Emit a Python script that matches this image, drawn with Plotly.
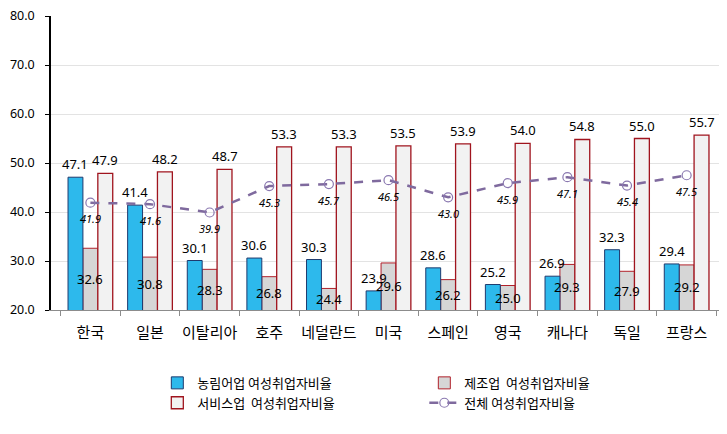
import plotly.graph_objects as go

categories = ["한국", "일본", "이탈리아", "호주", "네덜란드", "미국", "스페인", "영국", "캐나다", "독일", "프랑스"]
agri = [47.1, 41.4, 30.1, 30.6, 30.3, 23.9, 28.6, 25.2, 26.9, 32.3, 29.4]
manuf = [32.6, 30.8, 28.3, 26.8, 24.4, 29.6, 26.2, 25.0, 29.3, 27.9, 29.2]
service = [47.9, 48.2, 48.7, 53.3, 53.3, 53.5, 53.9, 54.0, 54.8, 55.0, 55.7]
total = [41.9, 41.6, 39.9, 45.3, 45.7, 46.5, 43.0, 45.9, 47.1, 45.4, 47.5]

names = ["농림어업 여성취업자비율", "제조업  여성취업자비율", "서비스업  여성취업자비율", "전체 여성취업자비율"]

NUM_FONT = "Noto Sans"
KR_FONT = "Noto Sans CJK KR"
Y_MIN, Y_MAX = 20, 80
BAR_W = 0.25  # width of each bar in category units

fig = go.Figure()
fig.add_trace(go.Bar(
    x=categories, y=manuf, name=names[1], legendrank=2,
    width=BAR_W, offset=-BAR_W / 2,
    marker=dict(color="#D6D6D6", line=dict(color="#B0202A", width=1)),
))
fig.add_trace(go.Bar(
    x=categories, y=service, name=names[2], legendrank=3,
    width=BAR_W, offset=BAR_W / 2,
    marker=dict(color="#F2F2F2", line=dict(color="#A0141E", width=1.3)),
))
fig.add_trace(go.Bar(
    x=categories, y=agri, name=names[0], legendrank=1,
    width=BAR_W, offset=-1.5 * BAR_W,
    marker=dict(color="#2DB9EC", line=dict(color="#1F3A6E", width=1)),
))
fig.add_trace(go.Scatter(
    x=categories, y=total, name=names[3], legendrank=4, mode="lines+markers",
    line=dict(color="#7F6A9E", width=2.5, dash="dash"),
    marker=dict(symbol="circle-open", size=9, color="#8A78B0", line=dict(width=1.2)),
    cliponaxis=False,
))

lab_font = dict(family=NUM_FONT, size=13, color="black")
for i, c in enumerate(categories):
    fig.add_annotation(x=i - BAR_W, y=agri[i], yshift=13, text=f"{agri[i]:.1f}",
                       showarrow=False, font=lab_font)
    fig.add_annotation(x=i, y=(Y_MIN + manuf[i]) / 2, text=f"{manuf[i]:.1f}",
                       showarrow=False, font=lab_font)
    fig.add_annotation(x=i + BAR_W, y=service[i], yshift=13, text=f"{service[i]:.1f}",
                       showarrow=False, font=lab_font)
    fig.add_annotation(x=i, y=total[i], yshift=-16, text=f"{total[i]:.1f}",
                       showarrow=False,
                       font=dict(family=NUM_FONT, size=11, color="black", style="italic"))

fig.update_layout(
    width=719, height=418,
    margin=dict(l=43, r=1, t=8, b=116),
    paper_bgcolor="white", plot_bgcolor="white",
    barmode="overlay",
    showlegend=True,
    legend=dict(orientation="h", x=0.1575, xanchor="left", y=-0.197, yanchor="top",
                entrywidth=222, entrywidthmode="pixels",
                font=dict(family=KR_FONT, size=13, color="black"),
                tracegroupgap=0, itemwidth=30),
    font=dict(family=NUM_FONT, color="black"),
)
fig.update_xaxes(
    automargin=False,
    showline=True, linecolor="#8C8C8C", linewidth=1,
    ticks="outside", ticklen=5, tickcolor="#8C8C8C", tickson="boundaries",
    tickfont=dict(family=KR_FONT, size=15, color="black"), tickangle=0,
    ticklabelstandoff=9,
    showgrid=False,
)
fig.update_yaxes(
    automargin=False,
    range=[Y_MIN, Y_MAX], dtick=10, tickformat=".1f",
    showline=True, linecolor="black", linewidth=1.5,
    ticks="outside", ticklen=4, tickcolor="black", ticklabelstandoff=8,
    ticklabeloverflow="allow",
    showgrid=True, gridcolor="#E3E3E3", gridwidth=1,
    tickfont=dict(family=NUM_FONT, size=12.5, color="black"),
    zeroline=False,
)

fig.write_html("out.html")
